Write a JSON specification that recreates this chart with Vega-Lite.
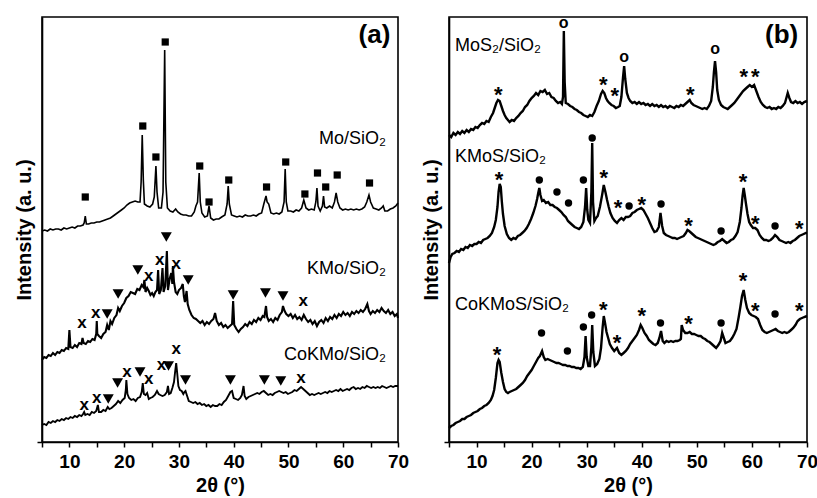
{
  "$schema": "https://vega.github.io/schema/vega-lite/v6.json",
  "padding": {"left": 13, "top": 14, "right": 8, "bottom": 0},
  "bounds": "flush",
  "spacing": 51,
  "config": {
    "font": "Liberation Sans",
    "view": {"stroke": "black", "strokeWidth": 1.6},
    "axis": {
      "grid": false,
      "domainColor": "black",
      "domainWidth": 1.6,
      "tickColor": "black",
      "tickWidth": 1.5,
      "tickSize": 5,
      "labelColor": "black",
      "labelFont": "Liberation Sans",
      "labelFontSize": 19,
      "labelFontWeight": "bold",
      "titleColor": "black",
      "titleFont": "Liberation Sans",
      "titleFontSize": 20,
      "titleFontWeight": "bold"
    },
    "text": {"font": "Liberation Sans", "color": "black"}
  },
  "datasets": {
    "mo": [
      {"x":5,"y":211},{"x":5.5,"y":212},{"x":6,"y":211},{"x":6.5,"y":213},{"x":7,"y":212},{"x":7.5,"y":213},{"x":8,"y":213},{"x":8.5,"y":212},{"x":9,"y":214},{"x":9.5,"y":213},{"x":10,"y":214},{"x":10.5,"y":215},{"x":11,"y":214},{"x":11.5,"y":216},{"x":12,"y":216},{"x":12.5,"y":217},{"x":12.7,"y":219},{"x":12.9,"y":226},{"x":13.1,"y":218},{"x":13.5,"y":218},{"x":14,"y":219},{"x":14.5,"y":219},{"x":15,"y":220},{"x":15.5,"y":220},{"x":16,"y":221},{"x":16.5,"y":222},{"x":17,"y":223},{"x":17.5,"y":224},{"x":18,"y":226},{"x":18.5,"y":228},{"x":19,"y":230},{"x":19.5,"y":232},{"x":20,"y":234},{"x":20.5,"y":237},{"x":21,"y":239},{"x":21.5,"y":240},{"x":22,"y":241},{"x":22.5,"y":240},{"x":22.9,"y":240},{"x":23.1,"y":260},{"x":23.3,"y":307},{"x":23.5,"y":262},{"x":23.7,"y":238},{"x":24.2,"y":236},{"x":24.7,"y":235},{"x":25.2,"y":238},{"x":25.5,"y":245},{"x":25.8,"y":276},{"x":26.0,"y":250},{"x":26.3,"y":234},{"x":26.8,"y":234},{"x":27.1,"y":250},{"x":27.4,"y":392},{"x":27.6,"y":260},{"x":27.9,"y":234},{"x":28.4,"y":231},{"x":28.9,"y":230},{"x":29.4,"y":233},{"x":29.8,"y":230},{"x":30.3,"y":228},{"x":30.8,"y":227},{"x":31.3,"y":227},{"x":31.8,"y":226},{"x":32.3,"y":226},{"x":32.8,"y":230},{"x":33.1,"y":236},{"x":33.4,"y":240},{"x":33.7,"y":269},{"x":33.9,"y":240},{"x":34.2,"y":229},{"x":34.7,"y":225},{"x":35.2,"y":226},{"x":35.5,"y":236},{"x":35.8,"y":224},{"x":36.3,"y":222},{"x":36.8,"y":223},{"x":37.3,"y":223},{"x":37.8,"y":225},{"x":38.4,"y":227},{"x":38.8,"y":238},{"x":39.0,"y":256},{"x":39.2,"y":238},{"x":39.6,"y":227},{"x":40.1,"y":226},{"x":40.6,"y":225},{"x":41.1,"y":226},{"x":41.6,"y":225},{"x":42.1,"y":227},{"x":42.6,"y":226},{"x":43.1,"y":226},{"x":43.6,"y":227},{"x":44.1,"y":226},{"x":44.6,"y":228},{"x":45.1,"y":229},{"x":45.5,"y":238},{"x":45.7,"y":242},{"x":45.9,"y":246},{"x":46.1,"y":240},{"x":46.4,"y":238},{"x":46.8,"y":229},{"x":47.3,"y":228},{"x":47.8,"y":229},{"x":48.3,"y":228},{"x":48.8,"y":230},{"x":49.2,"y":240},{"x":49.4,"y":273},{"x":49.6,"y":240},{"x":49.9,"y":231},{"x":50.4,"y":231},{"x":50.9,"y":230},{"x":51.4,"y":232},{"x":51.9,"y":231},{"x":52.4,"y":234},{"x":52.8,"y":242},{"x":53.2,"y":234},{"x":53.7,"y":232},{"x":54.2,"y":233},{"x":54.7,"y":232},{"x":55.0,"y":240},{"x":55.2,"y":254},{"x":55.4,"y":236},{"x":55.8,"y":231},{"x":56.2,"y":236},{"x":56.4,"y":246},{"x":56.6,"y":235},{"x":57.0,"y":234},{"x":57.5,"y":236},{"x":58.0,"y":234},{"x":58.4,"y":240},{"x":58.7,"y":249},{"x":59.0,"y":240},{"x":59.4,"y":234},{"x":59.9,"y":232},{"x":60.4,"y":233},{"x":60.9,"y":232},{"x":61.4,"y":233},{"x":61.9,"y":232},{"x":62.4,"y":233},{"x":62.9,"y":232},{"x":63.4,"y":233},{"x":63.9,"y":235},{"x":64.3,"y":240},{"x":64.7,"y":247},{"x":65.0,"y":240},{"x":65.5,"y":234},{"x":66.0,"y":233},{"x":66.5,"y":232},{"x":67.0,"y":234},{"x":67.3,"y":236},{"x":67.6,"y":231},{"x":68.1,"y":231},{"x":68.6,"y":233},{"x":69.1,"y":234},{"x":69.6,"y":236},{"x":70,"y":239}
    ],
    "kmo": [
      {"x":5,"y":82},{"x":5.4,"y":85},{"x":5.8,"y":84},{"x":6.2,"y":87},{"x":6.6,"y":86},{"x":7,"y":89},{"x":7.4,"y":87},{"x":7.8,"y":90},{"x":8.2,"y":89},{"x":8.6,"y":92},{"x":9,"y":91},{"x":9.4,"y":94},{"x":9.8,"y":93},{"x":10.0,"y":112},{"x":10.2,"y":95},{"x":10.6,"y":94},{"x":11,"y":97},{"x":11.4,"y":95},{"x":11.8,"y":99},{"x":12.2,"y":98},{"x":12.4,"y":104},{"x":12.6,"y":99},{"x":13,"y":98},{"x":13.4,"y":101},{"x":13.8,"y":100},{"x":14.2,"y":103},{"x":14.6,"y":102},{"x":14.9,"y":108},{"x":15.0,"y":121},{"x":15.1,"y":108},{"x":15.4,"y":106},{"x":15.8,"y":104},{"x":16.2,"y":108},{"x":16.6,"y":110},{"x":16.9,"y":117},{"x":17.2,"y":112},{"x":17.5,"y":121},{"x":17.8,"y":118},{"x":18.2,"y":124},{"x":18.6,"y":127},{"x":18.9,"y":134},{"x":19.2,"y":131},{"x":19.6,"y":136},{"x":20,"y":139},{"x":20.4,"y":144},{"x":20.8,"y":146},{"x":21.2,"y":150},{"x":21.6,"y":149},{"x":22,"y":148},{"x":22.4,"y":153},{"x":22.8,"y":152},{"x":23.2,"y":157},{"x":23.5,"y":155},{"x":23.7,"y":162},{"x":23.9,"y":150},{"x":24.2,"y":154},{"x":24.5,"y":151},{"x":24.8,"y":147},{"x":25.1,"y":149},{"x":25.4,"y":146},{"x":25.7,"y":150},{"x":26.0,"y":152},{"x":26.2,"y":172},{"x":26.4,"y":148},{"x":26.7,"y":152},{"x":27.0,"y":174},{"x":27.2,"y":150},{"x":27.5,"y":156},{"x":27.8,"y":191},{"x":28.0,"y":152},{"x":28.3,"y":163},{"x":28.6,"y":169},{"x":28.8,"y":158},{"x":28.9,"y":176},{"x":29.1,"y":160},{"x":29.4,"y":150},{"x":29.7,"y":148},{"x":30.0,"y":152},{"x":30.4,"y":154},{"x":30.7,"y":158},{"x":30.9,"y":146},{"x":31.1,"y":140},{"x":31.4,"y":151},{"x":31.6,"y":138},{"x":31.9,"y":132},{"x":32.3,"y":127},{"x":32.7,"y":124},{"x":33.1,"y":123},{"x":33.5,"y":121},{"x":33.9,"y":119},{"x":34.3,"y":121},{"x":34.7,"y":117},{"x":35.1,"y":120},{"x":35.5,"y":118},{"x":35.9,"y":121},{"x":36.3,"y":123},{"x":36.6,"y":129},{"x":36.9,"y":121},{"x":37.3,"y":117},{"x":37.7,"y":119},{"x":38.1,"y":115},{"x":38.5,"y":117},{"x":38.9,"y":114},{"x":39.3,"y":116},{"x":39.7,"y":118},{"x":39.9,"y":141},{"x":40.1,"y":117},{"x":40.5,"y":113},{"x":40.9,"y":110},{"x":41.3,"y":113},{"x":41.7,"y":115},{"x":42.1,"y":118},{"x":42.5,"y":116},{"x":42.9,"y":120},{"x":43.3,"y":118},{"x":43.7,"y":122},{"x":44.1,"y":120},{"x":44.5,"y":124},{"x":44.9,"y":122},{"x":45.3,"y":126},{"x":45.6,"y":125},{"x":45.9,"y":136},{"x":46.1,"y":125},{"x":46.4,"y":121},{"x":46.8,"y":123},{"x":47.2,"y":120},{"x":47.6,"y":124},{"x":48.0,"y":122},{"x":48.4,"y":127},{"x":48.8,"y":130},{"x":49.0,"y":136},{"x":49.3,"y":131},{"x":49.6,"y":128},{"x":50.0,"y":126},{"x":50.4,"y":128},{"x":50.8,"y":124},{"x":51.2,"y":127},{"x":51.6,"y":123},{"x":52.0,"y":125},{"x":52.4,"y":122},{"x":52.8,"y":127},{"x":53.2,"y":123},{"x":53.6,"y":120},{"x":54.0,"y":122},{"x":54.4,"y":118},{"x":54.8,"y":121},{"x":55.2,"y":116},{"x":55.6,"y":120},{"x":56.0,"y":122},{"x":56.4,"y":119},{"x":56.8,"y":124},{"x":57.2,"y":121},{"x":57.6,"y":125},{"x":58.0,"y":123},{"x":58.4,"y":127},{"x":58.8,"y":124},{"x":59.2,"y":128},{"x":59.6,"y":126},{"x":60.0,"y":130},{"x":60.4,"y":127},{"x":60.8,"y":129},{"x":61.2,"y":126},{"x":61.6,"y":130},{"x":62.0,"y":128},{"x":62.4,"y":131},{"x":62.8,"y":129},{"x":63.2,"y":132},{"x":63.6,"y":130},{"x":64.0,"y":133},{"x":64.4,"y":138},{"x":64.7,"y":131},{"x":65.0,"y":128},{"x":65.4,"y":131},{"x":65.8,"y":129},{"x":66.2,"y":132},{"x":66.6,"y":130},{"x":67.0,"y":134},{"x":67.4,"y":131},{"x":67.8,"y":129},{"x":68.2,"y":132},{"x":68.6,"y":128},{"x":69.0,"y":130},{"x":69.4,"y":126},{"x":69.8,"y":128},{"x":70,"y":124}
    ],
    "cokmo": [
      {"x":5,"y":17},{"x":5.4,"y":18},{"x":5.8,"y":17},{"x":6.2,"y":20},{"x":6.6,"y":19},{"x":7,"y":21},{"x":7.4,"y":20},{"x":7.8,"y":22},{"x":8.2,"y":21},{"x":8.6,"y":23},{"x":9,"y":22},{"x":9.4,"y":24},{"x":9.8,"y":23},{"x":10.2,"y":25},{"x":10.6,"y":24},{"x":11,"y":26},{"x":11.4,"y":25},{"x":11.8,"y":27},{"x":12.2,"y":26},{"x":12.5,"y":28},{"x":12.7,"y":30},{"x":12.9,"y":27},{"x":13.3,"y":28},{"x":13.7,"y":27},{"x":14.1,"y":30},{"x":14.5,"y":29},{"x":14.9,"y":31},{"x":15.2,"y":37},{"x":15.4,"y":30},{"x":15.8,"y":30},{"x":16.2,"y":32},{"x":16.6,"y":31},{"x":17.0,"y":35},{"x":17.3,"y":33},{"x":17.7,"y":34},{"x":18.1,"y":36},{"x":18.5,"y":38},{"x":18.9,"y":41},{"x":19.3,"y":39},{"x":19.7,"y":42},{"x":20.1,"y":44},{"x":20.3,"y":52},{"x":20.4,"y":62},{"x":20.6,"y":48},{"x":20.9,"y":44},{"x":21.3,"y":42},{"x":21.7,"y":43},{"x":22.1,"y":41},{"x":22.5,"y":44},{"x":22.9,"y":45},{"x":23.2,"y":50},{"x":23.4,"y":59},{"x":23.6,"y":48},{"x":23.9,"y":47},{"x":24.2,"y":49},{"x":24.5,"y":43},{"x":24.8,"y":44},{"x":25.2,"y":45},{"x":25.6,"y":47},{"x":26.0,"y":51},{"x":26.3,"y":48},{"x":26.6,"y":47},{"x":27.0,"y":46},{"x":27.4,"y":47},{"x":27.8,"y":50},{"x":28.0,"y":56},{"x":28.2,"y":48},{"x":28.5,"y":49},{"x":28.8,"y":54},{"x":29.1,"y":60},{"x":29.3,"y":70},{"x":29.5,"y":79},{"x":29.7,"y":68},{"x":29.9,"y":56},{"x":30.2,"y":52},{"x":30.5,"y":51},{"x":30.8,"y":48},{"x":31.0,"y":50},{"x":31.2,"y":51},{"x":31.5,"y":46},{"x":31.8,"y":41},{"x":32.2,"y":40},{"x":32.6,"y":39},{"x":33.0,"y":40},{"x":33.4,"y":38},{"x":33.8,"y":39},{"x":34.2,"y":37},{"x":34.6,"y":38},{"x":35.0,"y":36},{"x":35.4,"y":37},{"x":35.8,"y":35},{"x":36.2,"y":37},{"x":36.6,"y":36},{"x":37.0,"y":36},{"x":37.4,"y":38},{"x":37.8,"y":37},{"x":38.2,"y":40},{"x":38.6,"y":42},{"x":39.0,"y":46},{"x":39.4,"y":50},{"x":39.7,"y":51},{"x":40.0,"y":44},{"x":40.4,"y":43},{"x":40.8,"y":42},{"x":41.2,"y":44},{"x":41.5,"y":47},{"x":41.8,"y":56},{"x":42.0,"y":46},{"x":42.3,"y":43},{"x":42.7,"y":45},{"x":43.1,"y":46},{"x":43.5,"y":47},{"x":43.9,"y":48},{"x":44.3,"y":49},{"x":44.7,"y":48},{"x":45.1,"y":50},{"x":45.5,"y":51},{"x":45.9,"y":49},{"x":46.3,"y":47},{"x":46.7,"y":48},{"x":47.1,"y":47},{"x":47.5,"y":49},{"x":47.9,"y":50},{"x":48.3,"y":51},{"x":48.7,"y":50},{"x":49.1,"y":49},{"x":49.5,"y":50},{"x":49.9,"y":48},{"x":50.3,"y":49},{"x":50.7,"y":50},{"x":51.1,"y":52},{"x":51.5,"y":51},{"x":51.9,"y":53},{"x":52.3,"y":55},{"x":52.7,"y":53},{"x":53.1,"y":51},{"x":53.5,"y":49},{"x":53.9,"y":47},{"x":54.3,"y":48},{"x":54.7,"y":47},{"x":55.1,"y":48},{"x":55.5,"y":49},{"x":55.9,"y":48},{"x":56.3,"y":49},{"x":56.7,"y":50},{"x":57.1,"y":49},{"x":57.5,"y":51},{"x":57.9,"y":50},{"x":58.3,"y":51},{"x":58.7,"y":52},{"x":59.1,"y":51},{"x":59.5,"y":53},{"x":59.9,"y":51},{"x":60.3,"y":52},{"x":60.7,"y":53},{"x":61.1,"y":52},{"x":61.5,"y":54},{"x":61.9,"y":55},{"x":62.3,"y":53},{"x":62.7,"y":54},{"x":63.1,"y":53},{"x":63.5,"y":55},{"x":63.9,"y":54},{"x":64.3,"y":56},{"x":64.7,"y":55},{"x":65.1,"y":54},{"x":65.5,"y":55},{"x":65.9,"y":54},{"x":66.3,"y":55},{"x":66.7,"y":54},{"x":67.1,"y":56},{"x":67.5,"y":55},{"x":67.9,"y":54},{"x":68.3,"y":55},{"x":68.7,"y":56},{"x":69.1,"y":55},{"x":69.5,"y":56},{"x":70,"y":56}
    ],
    "mos2": [
      {"x":5,"y":307},{"x":5.4,"y":305},{"x":5.8,"y":309},{"x":6.2,"y":307},{"x":6.6,"y":310},{"x":7,"y":308},{"x":7.4,"y":311},{"x":7.8,"y":309},{"x":8.2,"y":312},{"x":8.6,"y":310},{"x":9,"y":313},{"x":9.4,"y":312},{"x":9.8,"y":315},{"x":10.2,"y":314},{"x":10.6,"y":317},{"x":11,"y":319},{"x":11.4,"y":318},{"x":11.8,"y":321},{"x":12.2,"y":320},{"x":12.6,"y":325},{"x":13.0,"y":329},{"x":13.3,"y":334},{"x":13.6,"y":339},{"x":13.9,"y":342},{"x":14.2,"y":341},{"x":14.5,"y":336},{"x":14.8,"y":331},{"x":15.1,"y":327},{"x":15.4,"y":324},{"x":15.7,"y":322},{"x":16.0,"y":320},{"x":16.4,"y":322},{"x":16.8,"y":321},{"x":17.2,"y":324},{"x":17.6,"y":326},{"x":18.0,"y":329},{"x":18.4,"y":331},{"x":18.8,"y":335},{"x":19.2,"y":337},{"x":19.6,"y":341},{"x":20.0,"y":344},{"x":20.4,"y":346},{"x":20.8,"y":349},{"x":21.2,"y":347},{"x":21.6,"y":351},{"x":22.0,"y":350},{"x":22.4,"y":352},{"x":22.8,"y":348},{"x":23.2,"y":349},{"x":23.6,"y":345},{"x":24.0,"y":344},{"x":24.4,"y":341},{"x":24.8,"y":339},{"x":25.2,"y":340},{"x":25.5,"y":338},{"x":25.7,"y":345},{"x":25.85,"y":411},{"x":26.0,"y":360},{"x":26.2,"y":339},{"x":26.6,"y":338},{"x":27.0,"y":336},{"x":27.4,"y":335},{"x":27.8,"y":333},{"x":28.2,"y":332},{"x":28.6,"y":330},{"x":29.0,"y":329},{"x":29.4,"y":327},{"x":29.8,"y":326},{"x":30.2,"y":325},{"x":30.6,"y":327},{"x":31.0,"y":326},{"x":31.4,"y":330},{"x":31.8,"y":336},{"x":32.2,"y":341},{"x":32.6,"y":348},{"x":32.9,"y":351},{"x":33.2,"y":349},{"x":33.5,"y":344},{"x":33.8,"y":341},{"x":34.1,"y":339},{"x":34.5,"y":337},{"x":34.9,"y":336},{"x":35.3,"y":334},{"x":35.7,"y":335},{"x":36.0,"y":336},{"x":36.3,"y":345},{"x":36.6,"y":365},{"x":36.8,"y":376},{"x":37.0,"y":363},{"x":37.3,"y":349},{"x":37.6,"y":344},{"x":37.9,"y":341},{"x":38.3,"y":339},{"x":38.7,"y":340},{"x":39.1,"y":338},{"x":39.5,"y":340},{"x":39.9,"y":338},{"x":40.3,"y":339},{"x":40.7,"y":337},{"x":41.1,"y":338},{"x":41.5,"y":336},{"x":41.9,"y":338},{"x":42.3,"y":336},{"x":42.7,"y":337},{"x":43.1,"y":335},{"x":43.5,"y":337},{"x":43.9,"y":335},{"x":44.3,"y":336},{"x":44.7,"y":334},{"x":45.1,"y":336},{"x":45.5,"y":335},{"x":45.9,"y":334},{"x":46.3,"y":336},{"x":46.7,"y":335},{"x":47.1,"y":337},{"x":47.5,"y":336},{"x":47.9,"y":338},{"x":48.3,"y":340},{"x":48.7,"y":342},{"x":49.0,"y":339},{"x":49.4,"y":337},{"x":49.8,"y":336},{"x":50.2,"y":335},{"x":50.6,"y":334},{"x":51.0,"y":333},{"x":51.4,"y":334},{"x":51.8,"y":333},{"x":52.2,"y":336},{"x":52.6,"y":341},{"x":52.9,"y":355},{"x":53.1,"y":370},{"x":53.3,"y":381},{"x":53.5,"y":370},{"x":53.7,"y":352},{"x":54.0,"y":342},{"x":54.4,"y":337},{"x":54.8,"y":335},{"x":55.2,"y":334},{"x":55.6,"y":333},{"x":56.0,"y":335},{"x":56.4,"y":337},{"x":56.8,"y":339},{"x":57.2,"y":342},{"x":57.6,"y":345},{"x":58.0,"y":348},{"x":58.4,"y":351},{"x":58.8,"y":353},{"x":59.2,"y":355},{"x":59.6,"y":357},{"x":60.0,"y":355},{"x":60.4,"y":357},{"x":60.8,"y":351},{"x":61.2,"y":345},{"x":61.6,"y":340},{"x":62.0,"y":337},{"x":62.4,"y":335},{"x":62.8,"y":334},{"x":63.2,"y":335},{"x":63.6,"y":333},{"x":64.0,"y":334},{"x":64.4,"y":333},{"x":64.8,"y":335},{"x":65.2,"y":334},{"x":65.6,"y":336},{"x":66.0,"y":339},{"x":66.3,"y":345},{"x":66.5,"y":349},{"x":66.8,"y":344},{"x":67.1,"y":340},{"x":67.5,"y":339},{"x":67.9,"y":341},{"x":68.3,"y":339},{"x":68.7,"y":340},{"x":69.1,"y":338},{"x":69.5,"y":340},{"x":70,"y":341}
    ],
    "kmos": [
      {"x":5,"y":179},{"x":5.3,"y":185},{"x":5.6,"y":188},{"x":6.0,"y":189},{"x":6.4,"y":191},{"x":6.8,"y":190},{"x":7.2,"y":193},{"x":7.6,"y":192},{"x":8.0,"y":195},{"x":8.4,"y":194},{"x":8.8,"y":197},{"x":9.2,"y":196},{"x":9.6,"y":198},{"x":10.0,"y":198},{"x":10.4,"y":200},{"x":10.8,"y":199},{"x":11.2,"y":202},{"x":11.6,"y":203},{"x":12.0,"y":204},{"x":12.4,"y":206},{"x":12.8,"y":209},{"x":13.2,"y":215},{"x":13.5,"y":222},{"x":13.8,"y":235},{"x":14.0,"y":250},{"x":14.2,"y":258},{"x":14.4,"y":255},{"x":14.6,"y":240},{"x":14.8,"y":228},{"x":15.1,"y":216},{"x":15.5,"y":208},{"x":15.9,"y":204},{"x":16.3,"y":202},{"x":16.7,"y":204},{"x":17.1,"y":203},{"x":17.5,"y":206},{"x":17.9,"y":207},{"x":18.3,"y":209},{"x":18.7,"y":211},{"x":19.1,"y":214},{"x":19.5,"y":218},{"x":19.9,"y":223},{"x":20.3,"y":229},{"x":20.7,"y":236},{"x":21.0,"y":243},{"x":21.2,"y":249},{"x":21.4,"y":254},{"x":21.6,"y":247},{"x":21.9,"y":241},{"x":22.2,"y":242},{"x":22.6,"y":239},{"x":23.0,"y":240},{"x":23.4,"y":237},{"x":23.8,"y":237},{"x":24.2,"y":235},{"x":24.6,"y":234},{"x":25.0,"y":232},{"x":25.4,"y":230},{"x":25.8,"y":227},{"x":26.2,"y":225},{"x":26.6,"y":221},{"x":27.0,"y":219},{"x":27.4,"y":217},{"x":27.8,"y":215},{"x":28.2,"y":214},{"x":28.6,"y":213},{"x":29.0,"y":215},{"x":29.4,"y":220},{"x":29.7,"y":235},{"x":29.9,"y":254},{"x":30.1,"y":232},{"x":30.3,"y":222},{"x":30.6,"y":219},{"x":30.85,"y":250},{"x":31.0,"y":299},{"x":31.15,"y":240},{"x":31.4,"y":221},{"x":31.7,"y":224},{"x":32.0,"y":226},{"x":32.4,"y":235},{"x":32.8,"y":247},{"x":33.1,"y":257},{"x":33.4,"y":250},{"x":33.7,"y":242},{"x":34.0,"y":235},{"x":34.3,"y":229},{"x":34.7,"y":224},{"x":35.1,"y":221},{"x":35.5,"y":219},{"x":35.9,"y":222},{"x":36.3,"y":224},{"x":36.7,"y":222},{"x":37.1,"y":225},{"x":37.5,"y":225},{"x":37.9,"y":226},{"x":38.3,"y":229},{"x":38.7,"y":230},{"x":39.1,"y":232},{"x":39.5,"y":233},{"x":39.9,"y":234},{"x":40.3,"y":232},{"x":40.7,"y":228},{"x":41.1,"y":224},{"x":41.5,"y":219},{"x":41.9,"y":214},{"x":42.3,"y":210},{"x":42.7,"y":211},{"x":43.1,"y":215},{"x":43.4,"y":229},{"x":43.7,"y":216},{"x":44.0,"y":209},{"x":44.4,"y":207},{"x":44.8,"y":206},{"x":45.2,"y":205},{"x":45.6,"y":204},{"x":46.0,"y":204},{"x":46.4,"y":203},{"x":46.8,"y":204},{"x":47.2,"y":205},{"x":47.6,"y":206},{"x":48.0,"y":209},{"x":48.3,"y":212},{"x":48.6,"y":211},{"x":49.0,"y":209},{"x":49.4,"y":207},{"x":49.8,"y":205},{"x":50.2,"y":204},{"x":50.6,"y":203},{"x":51.0,"y":202},{"x":51.4,"y":201},{"x":51.8,"y":200},{"x":52.2,"y":199},{"x":52.6,"y":198},{"x":53.0,"y":197},{"x":53.4,"y":198},{"x":53.8,"y":200},{"x":54.2,"y":201},{"x":54.6,"y":203},{"x":55.0,"y":201},{"x":55.4,"y":199},{"x":55.8,"y":200},{"x":56.2,"y":202},{"x":56.6,"y":203},{"x":57.0,"y":206},{"x":57.4,"y":210},{"x":57.8,"y":220},{"x":58.1,"y":234},{"x":58.3,"y":246},{"x":58.5,"y":254},{"x":58.7,"y":247},{"x":58.9,"y":239},{"x":59.2,"y":228},{"x":59.5,"y":220},{"x":59.8,"y":217},{"x":60.2,"y":214},{"x":60.6,"y":214},{"x":61.0,"y":212},{"x":61.4,"y":207},{"x":61.8,"y":204},{"x":62.2,"y":202},{"x":62.6,"y":202},{"x":63.0,"y":201},{"x":63.4,"y":202},{"x":63.8,"y":204},{"x":64.2,"y":207},{"x":64.6,"y":205},{"x":65.0,"y":202},{"x":65.4,"y":201},{"x":65.8,"y":200},{"x":66.2,"y":199},{"x":66.6,"y":200},{"x":67.0,"y":199},{"x":67.4,"y":201},{"x":67.8,"y":202},{"x":68.2,"y":204},{"x":68.6,"y":206},{"x":69.0,"y":207},{"x":69.4,"y":208},{"x":69.8,"y":209},{"x":70,"y":209}
    ],
    "cokmos": [
      {"x":5,"y":14},{"x":5.4,"y":16},{"x":5.8,"y":17},{"x":6.2,"y":19},{"x":6.6,"y":20},{"x":7.0,"y":21},{"x":7.4,"y":23},{"x":7.8,"y":23},{"x":8.2,"y":25},{"x":8.6,"y":26},{"x":9.0,"y":27},{"x":9.4,"y":29},{"x":9.8,"y":30},{"x":10.2,"y":31},{"x":10.6,"y":33},{"x":11.0,"y":34},{"x":11.4,"y":36},{"x":11.8,"y":37},{"x":12.2,"y":39},{"x":12.6,"y":42},{"x":12.9,"y":46},{"x":13.2,"y":52},{"x":13.5,"y":64},{"x":13.8,"y":79},{"x":14.0,"y":82},{"x":14.2,"y":80},{"x":14.5,"y":69},{"x":14.8,"y":60},{"x":15.1,"y":53},{"x":15.4,"y":50},{"x":15.7,"y":49},{"x":16.0,"y":50},{"x":16.4,"y":51},{"x":16.8,"y":52},{"x":17.2,"y":53},{"x":17.6,"y":55},{"x":18.0,"y":57},{"x":18.4,"y":59},{"x":18.8,"y":62},{"x":19.2,"y":66},{"x":19.6,"y":69},{"x":20.0,"y":72},{"x":20.4,"y":76},{"x":20.8,"y":80},{"x":21.2,"y":84},{"x":21.5,"y":86},{"x":21.9,"y":91},{"x":22.2,"y":85},{"x":22.5,"y":82},{"x":22.9,"y":83},{"x":23.3,"y":82},{"x":23.7,"y":81},{"x":24.1,"y":80},{"x":24.5,"y":79},{"x":24.9,"y":79},{"x":25.3,"y":78},{"x":25.7,"y":77},{"x":26.1,"y":77},{"x":26.5,"y":76},{"x":26.9,"y":76},{"x":27.3,"y":75},{"x":27.7,"y":75},{"x":28.1,"y":74},{"x":28.5,"y":74},{"x":28.9,"y":73},{"x":29.3,"y":75},{"x":29.6,"y":85},{"x":29.8,"y":106},{"x":30.0,"y":85},{"x":30.3,"y":76},{"x":30.6,"y":76},{"x":30.85,"y":95},{"x":31.0,"y":117},{"x":31.2,"y":90},{"x":31.5,"y":76},{"x":31.9,"y":78},{"x":32.3,"y":83},{"x":32.6,"y":94},{"x":32.9,"y":115},{"x":33.1,"y":126},{"x":33.3,"y":120},{"x":33.6,"y":110},{"x":33.9,"y":104},{"x":34.2,"y":98},{"x":34.6,"y":94},{"x":35.0,"y":91},{"x":35.5,"y":94},{"x":35.9,"y":89},{"x":36.3,"y":87},{"x":36.7,"y":89},{"x":37.1,"y":91},{"x":37.5,"y":94},{"x":37.9,"y":98},{"x":38.3,"y":101},{"x":38.7,"y":104},{"x":39.1,"y":107},{"x":39.5,"y":112},{"x":39.8,"y":117},{"x":40.1,"y":114},{"x":40.5,"y":109},{"x":40.9,"y":106},{"x":41.3,"y":102},{"x":41.7,"y":100},{"x":42.1,"y":98},{"x":42.5,"y":97},{"x":42.9,"y":99},{"x":43.2,"y":104},{"x":43.5,"y":111},{"x":43.8,"y":101},{"x":44.1,"y":99},{"x":44.5,"y":101},{"x":44.9,"y":100},{"x":45.3,"y":101},{"x":45.7,"y":100},{"x":46.1,"y":101},{"x":46.5,"y":101},{"x":46.9,"y":102},{"x":47.1,"y":103},{"x":47.25,"y":117},{"x":47.5,"y":112},{"x":47.9,"y":109},{"x":48.3,"y":109},{"x":48.7,"y":110},{"x":49.1,"y":108},{"x":49.5,"y":108},{"x":49.9,"y":107},{"x":50.3,"y":106},{"x":50.7,"y":106},{"x":51.1,"y":104},{"x":51.5,"y":103},{"x":51.9,"y":101},{"x":52.3,"y":100},{"x":52.7,"y":98},{"x":53.1,"y":96},{"x":53.5,"y":94},{"x":53.9,"y":97},{"x":54.3,"y":101},{"x":54.6,"y":109},{"x":54.9,"y":104},{"x":55.2,"y":99},{"x":55.6,"y":100},{"x":56.0,"y":101},{"x":56.4,"y":104},{"x":56.8,"y":108},{"x":57.2,"y":113},{"x":57.6,"y":125},{"x":57.9,"y":135},{"x":58.2,"y":146},{"x":58.5,"y":152},{"x":58.8,"y":142},{"x":59.1,"y":134},{"x":59.5,"y":129},{"x":59.9,"y":127},{"x":60.3,"y":126},{"x":60.7,"y":125},{"x":61.1,"y":123},{"x":61.5,"y":117},{"x":61.9,"y":112},{"x":62.3,"y":110},{"x":62.7,"y":109},{"x":63.1,"y":110},{"x":63.5,"y":111},{"x":63.9,"y":112},{"x":64.3,"y":113},{"x":64.7,"y":111},{"x":65.1,"y":110},{"x":65.5,"y":109},{"x":65.9,"y":110},{"x":66.3,"y":109},{"x":66.7,"y":110},{"x":67.1,"y":112},{"x":67.5,"y":114},{"x":67.9,"y":117},{"x":68.3,"y":121},{"x":68.7,"y":123},{"x":69.1,"y":124},{"x":69.5,"y":125},{"x":70,"y":126}
    ],
    "markA": [
      {"x":12.9,"y":245,"m":"sq"},{"x":23.4,"y":316,"m":"sq"},{"x":25.8,"y":285,"m":"sq"},{"x":27.5,"y":400,"m":"sq"},{"x":33.8,"y":276,"m":"sq"},{"x":35.5,"y":240,"m":"sq"},{"x":39.1,"y":262,"m":"sq"},{"x":46.0,"y":255,"m":"sq"},{"x":49.5,"y":280,"m":"sq"},{"x":53.0,"y":248,"m":"sq"},{"x":55.3,"y":269,"m":"sq"},{"x":56.8,"y":255,"m":"sq"},{"x":58.9,"y":267,"m":"sq"},{"x":64.8,"y":259,"m":"sq"},
      {"x":12.3,"y":118,"m":"x"},{"x":14.8,"y":128,"m":"x"},{"x":16.9,"y":128,"m":"tri"},{"x":18.9,"y":148,"m":"tri"},{"x":22.5,"y":172,"m":"tri"},{"x":24.5,"y":165,"m":"x"},{"x":26.5,"y":181,"m":"x"},{"x":27.7,"y":205,"m":"tri"},{"x":29.5,"y":177,"m":"x"},{"x":31.7,"y":162,"m":"tri"},{"x":39.9,"y":147,"m":"tri"},{"x":45.8,"y":149,"m":"tri"},{"x":49.0,"y":146,"m":"tri"},{"x":52.7,"y":140,"m":"x"},
      {"x":12.7,"y":36,"m":"x"},{"x":15.0,"y":43,"m":"x"},{"x":17.1,"y":43,"m":"tri"},{"x":18.8,"y":59,"m":"tri"},{"x":20.5,"y":69,"m":"x"},{"x":22.9,"y":70,"m":"tri"},{"x":24.5,"y":62,"m":"x"},{"x":26.8,"y":76,"m":"x"},{"x":28.1,"y":76,"m":"tri"},{"x":29.5,"y":92,"m":"x"},{"x":31.2,"y":62,"m":"tri"},{"x":39.4,"y":62,"m":"tri"},{"x":45.6,"y":62,"m":"tri"},{"x":48.6,"y":61,"m":"tri"},{"x":52.3,"y":63,"m":"x"}
    ],
    "markB": [
      {"x":13.95,"y":352,"m":"star"},{"x":25.8,"y":418,"m":"o"},{"x":33.0,"y":362,"m":"star"},{"x":35.1,"y":351,"m":"star"},{"x":36.8,"y":384,"m":"o"},{"x":48.8,"y":352,"m":"star"},{"x":53.3,"y":392,"m":"o"},{"x":58.5,"y":370,"m":"star"},{"x":60.6,"y":370,"m":"star"},
      {"x":14.1,"y":267,"m":"star"},{"x":21.4,"y":262,"m":"dot"},{"x":24.6,"y":250,"m":"dot"},{"x":26.7,"y":239,"m":"dot"},{"x":29.4,"y":262,"m":"dot"},{"x":31.0,"y":304,"m":"dot"},{"x":33.1,"y":269,"m":"star"},{"x":35.7,"y":239,"m":"star"},{"x":37.7,"y":236,"m":"dot"},{"x":40.0,"y":242,"m":"star"},{"x":43.5,"y":238,"m":"dot"},{"x":48.5,"y":221,"m":"star"},{"x":54.4,"y":211,"m":"dot"},{"x":58.4,"y":265,"m":"star"},{"x":60.6,"y":223,"m":"star"},{"x":64.2,"y":216,"m":"dot"},{"x":68.6,"y":218,"m":"star"},
      {"x":13.7,"y":92,"m":"star"},{"x":21.8,"y":109,"m":"dot"},{"x":26.5,"y":91,"m":"dot"},{"x":29.4,"y":115,"m":"dot"},{"x":30.9,"y":127,"m":"dot"},{"x":33.0,"y":137,"m":"star"},{"x":35.5,"y":104,"m":"star"},{"x":40.0,"y":131,"m":"star"},{"x":43.4,"y":119,"m":"dot"},{"x":48.5,"y":123,"m":"star"},{"x":54.4,"y":119,"m":"dot"},{"x":58.4,"y":166,"m":"star"},{"x":60.6,"y":136,"m":"star"},{"x":64.2,"y":128,"m":"dot"},{"x":68.6,"y":136,"m":"star"}
    ],
    "labA": [
      {"x":67.8,"y":303,"t":"Mo/SiO₂"},{"x":67.8,"y":173,"t":"KMo/SiO₂"},{"x":67.8,"y":87,"t":"CoKMo/SiO₂"}
    ],
    "labB": [
      {"x":6.1,"y":396,"t":"MoS₂/SiO₂"},{"x":6.1,"y":285,"t":"KMoS/SiO₂"},{"x":6.1,"y":137,"t":"CoKMoS/SiO₂"}
    ],
    "tagA": [{"x":68.6,"y":407,"t":"(a)"}],
    "tagB": [{"x":68.4,"y":407,"t":"(b)"}]
  },
  "hconcat": [
    {
      "width": 356,
      "height": 425,
      "encoding": {
        "x": {"field": "x", "type": "quantitative", "scale": {"domain": [5, 70], "nice": false, "zero": false},
              "axis": {"values": [5,10,15,20,25,30,35,40,45,50,55,60,65,70], "labelExpr": "datum.value % 10 === 0 ? datum.label : ''", "labelPadding": 5, "labelOverlap": false, "labelFlush": false, "title": "2θ (°)", "titlePadding": 4}},
        "y": {"field": "y", "type": "quantitative", "scale": {"domain": [0, 425], "nice": false},
              "axis": {"values": [0], "labels": false, "title": "Intensity (a. u.)", "titlePadding": 2}}
      },
      "layer": [
        {"data": {"name": "mo"}, "mark": {"type": "line", "color": "black", "strokeWidth": 1.6}},
        {"data": {"name": "kmo"}, "mark": {"type": "line", "color": "black", "strokeWidth": 2.1}},
        {"data": {"name": "cokmo"}, "mark": {"type": "line", "color": "black", "strokeWidth": 1.9}},
        {"data": {"name": "markA"}, "transform": [{"filter": "datum.m === 'sq'"}], "mark": {"type": "point", "shape": "square", "filled": true, "color": "black", "opacity": 1, "size": 52}},
        {"data": {"name": "markA"}, "transform": [{"filter": "datum.m === 'tri'"}], "mark": {"type": "point", "shape": "triangle-down", "filled": true, "color": "black", "opacity": 1, "size": 120}},
        {"data": {"name": "markA"}, "transform": [{"filter": "datum.m === 'x'"}], "mark": {"type": "text", "text": "x", "fontSize": 17, "fontWeight": "bold", "baseline": "alphabetic", "dy": 4}},
        {"data": {"name": "labA"}, "mark": {"type": "text", "fontSize": 18, "align": "right", "baseline": "middle"}, "encoding": {"text": {"field": "t"}}},
        {"data": {"name": "tagA"}, "mark": {"type": "text", "fontSize": 26, "fontWeight": "bold", "align": "right", "baseline": "middle"}, "encoding": {"text": {"field": "t"}}}
      ]
    },
    {
      "width": 358,
      "height": 425,
      "encoding": {
        "x": {"field": "x", "type": "quantitative", "scale": {"domain": [5, 70], "nice": false, "zero": false},
              "axis": {"values": [5,10,15,20,25,30,35,40,45,50,55,60,65,70], "labelExpr": "datum.value % 10 === 0 ? datum.label : ''", "labelPadding": 5, "labelOverlap": false, "labelFlush": false, "title": "2θ (°)", "titlePadding": 4}},
        "y": {"field": "y", "type": "quantitative", "scale": {"domain": [0, 425], "nice": false},
              "axis": {"values": [0], "labels": false, "title": "Intensity (a. u.)", "titlePadding": 2}}
      },
      "layer": [
        {"data": {"name": "mos2"}, "mark": {"type": "line", "color": "black", "strokeWidth": 2.4}},
        {"data": {"name": "kmos"}, "mark": {"type": "line", "color": "black", "strokeWidth": 2.4}},
        {"data": {"name": "cokmos"}, "mark": {"type": "line", "color": "black", "strokeWidth": 2.4}},
        {"data": {"name": "markB"}, "transform": [{"filter": "datum.m === 'dot'"}], "mark": {"type": "point", "shape": "circle", "filled": true, "color": "black", "opacity": 1, "size": 55}},
        {"data": {"name": "markB"}, "transform": [{"filter": "datum.m === 'star'"}], "mark": {"type": "text", "text": "*", "fontSize": 22, "fontWeight": "bold", "baseline": "alphabetic", "dy": 12}},
        {"data": {"name": "markB"}, "transform": [{"filter": "datum.m === 'o'"}], "mark": {"type": "text", "text": "o", "fontSize": 16, "fontWeight": "bold", "baseline": "alphabetic", "dy": 4}},
        {"data": {"name": "labB"}, "mark": {"type": "text", "fontSize": 18, "align": "left", "baseline": "middle"}, "encoding": {"text": {"field": "t"}}},
        {"data": {"name": "tagB"}, "mark": {"type": "text", "fontSize": 26, "fontWeight": "bold", "align": "right", "baseline": "middle"}, "encoding": {"text": {"field": "t"}}}
      ]
    }
  ]
}
